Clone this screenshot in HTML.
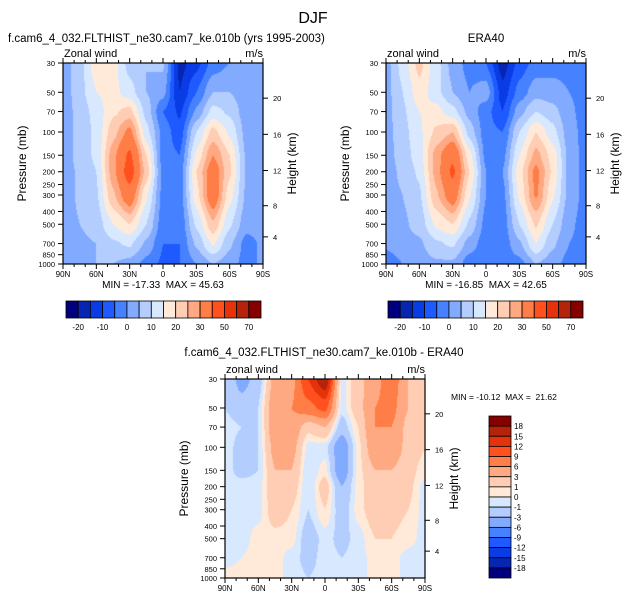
<!DOCTYPE html>
<html><head><meta charset="utf-8">
<style>
body{margin:0;background:#fff;width:626px;height:601px;overflow:hidden;position:relative;font-family:"Liberation Sans",sans-serif;}
svg{position:absolute;left:0;top:0}
svg text{white-space:pre}
canvas{position:absolute}
</style></head>
<body>
<canvas id="c1" style="left:63px;top:63px" width="200" height="201"></canvas>
<canvas id="c2" style="left:386px;top:63px" width="200" height="201"></canvas>
<canvas id="c3" style="left:225px;top:379px" width="200" height="199"></canvas>
<svg id="s" width="626" height="601"></svg>
<script>
const lats=[90,75,60,45,30,15,0,-15,-30,-45,-60,-75,-90];
const levs=[30,50,70,100,150,200,300,500,700,1000];
const modelU=[
[2,2,2,2,2,2,2,2,2,1],
[8,8,7,7,7,6,6,5,4,3],
[18,15,12,11,11,10,9,7,5,5],
[17,17,19,23,28,28,24,15,9,5],
[8,12,22,32,42,45,36,20,11,3],
[5,5,8,12,20,23,16,10,4,-2],
[6,2,-5,-2,-3,-2,-2,-3,-5,-6],
[-17,-15,-11,-8,-5,-3,-3,-4,-5,-5],
[-12,-5,1,10,16,20,18,11,6,0],
[-3,5,12,22,30,35,36,24,16,5],
[0,5,9,14,20,21,17,11,6,2],
[2,2,2,3,4,4,4,2,-2,-2],
[2,2,2,2,2,2,2,2,1,1]];
const eraU=[
[3,3,3,3,3,3,3,2,1,-3],
[12,10,9,8,7,6,5,4,3,0],
[22,18,15,14,13,11,9,7,4,2],
[12,12,17,21,27,27,24,16,9,4],
[3,5,12,25,38,42,35,20,11,4],
[-2,0,3,8,17,20,16,9,3,-3],
[-5,3,-3,-3,-2,0,0,-2,-3,-4],
[-18,-13,-10,-5,-2,0,-2,-3,-3,-3],
[-8,-3,3,10,15,18,16,10,4,-2],
[-3,3,10,20,27,32,31,21,15,5],
[-2,2,7,12,18,19,16,10,6,2],
[-2,0,1,2,3,3,3,1,0,-2],
[-2,-2,-2,-2,-2,-2,-2,-2,-2,-2]];
const diffU=[
[-1,-1,-0.5,-0.5,-0.5,-0.5,-0.5,-0.5,-0.5,0.5],
[-4,-2,-1,-1.5,-1.5,-0.5,-0.5,-0.5,0,0.5],
[-2,-1,-1,-1,-1,-0.5,-0.5,0.5,0.5,0.5],
[4,5,5,4,3,2.5,2,0.5,0.5,0.5],
[5,6,5,4,3,2,1,0.5,-0.5,-0.5],
[12,8,1.5,-0.5,-1,-1,-1,-2,-1.5,-1],
[18,10,3,-0.5,0.5,2,1,-0.5,-0.5,-0.5],
[-0.5,-0.5,-2,-5,-5,-3,-2,-1.5,-1,-0.5],
[2,2,1,0.5,0.5,0.5,0.5,-0.5,-0.5,-0.5],
[5,6,6,5,3,2,2,1,0.5,0.5],
[8,7,6,5,3,2,1.5,1,0.5,0.5],
[3,3,2,2,1.5,1.5,1,0.5,-0.5,-0.5],
[2,2,1.5,1,0.5,-0.5,-0.5,-0.5,-0.5,-1]];
const levelsA=[-20,-15,-10,-5,0,5,10,15,20,25,30,40,50,60,70];
const labelsA=["-20","-10","0","10","20","30","50","70"];
const levelsD=[-18,-15,-12,-9,-6,-3,-1,0,1,3,6,9,12,15,18];
const colors=["#00007e","#0625b0","#0a3ce6","#1e5aff","#4682ff","#82aaff","#b4cdff","#d7e8ff","#ffead9","#ffcdb4","#ffa982","#ff7d46","#ff501e","#e6320a","#b4230a","#870000"];
const pTicks=[30,50,70,100,150,200,250,300,400,500,700,850,1000];
const zTicks=[4,8,12,16,20];
const zOff={4:173,8:142,12:107,16:71,20:35};
const xLabels=["90N","60N","30N","0","30S","60S","90S"];

const L=Math.log10(1000/30);
function yOf(p,h){return h*Math.log10(p/30)/L;}
function xOf(lat,w){return w*(90-lat)/180;}
function fieldAt(data,lat,p){
  let fi=(90-lat)/15; let i=Math.min(Math.floor(fi),11); let ti=fi-i;
  let lp=Math.log10(p); let j=0;
  while(j<levs.length-2 && lp>Math.log10(levs[j+1])) j++;
  let a=Math.log10(levs[j]),b=Math.log10(levs[j+1]);
  let tj=Math.max(0,Math.min(1,(lp-a)/(b-a)));
  ti=ti*ti*(3-2*ti)*0.5+ti*0.5; tj=tj*tj*(3-2*tj)*0.5+tj*0.5;
  const v00=data[i][j],v01=data[i][j+1],v10=data[i+1][j],v11=data[i+1][j+1];
  return (v00*(1-ti)+v10*ti)*(1-tj)+(v01*(1-ti)+v11*ti)*tj;
}
function colorOf(v,levels){let k=0;while(k<levels.length&&v>=levels[k])k++;return colors[k];}
function drawField(id,data,levels){
  const c=document.getElementById(id),ctx=c.getContext('2d'),w=c.width,h=c.height;
  for(let x=0;x<w;x+=1){for(let y=0;y<h;y+=1){
    const lat=90-180*(x+0.5)/w; const p=30*Math.pow(10,L*(y+0.5)/h);
    ctx.fillStyle=colorOf(fieldAt(data,lat,p),levels);ctx.fillRect(x,y,1,1);}}
}
drawField('c1',modelU,levelsA);drawField('c2',eraU,levelsA);drawField('c3',diffU,levelsD);

const NS="http://www.w3.org/2000/svg",S=document.getElementById('s');
function el(t,a,txt){const e=document.createElementNS(NS,t);for(const k in a)e.setAttribute(k,a[k]);if(txt!==undefined)e.textContent=txt;S.appendChild(e);return e;}
function txt(x,y,s,size,anchor,name){const e=el('text',{x:x,y:y,'font-size':size,'text-anchor':anchor||'start',fill:'#000'},s);

return e;}

function axes(x0,y0,w,h,leftTitle,prefix){
  const r=el('rect',{x:x0,y:y0,width:w,height:h,fill:'none',stroke:'#000','stroke-width':1.2});
  
  
  for(let lat=90;lat>=-90;lat-=10){const x=x0+xOf(lat,w),maj=lat%30===0,len=maj?5:3;
    el('line',{x1:x,x2:x,y1:y0+h,y2:y0+h+len,stroke:'#000'});
    el('line',{x1:x,x2:x,y1:y0,y2:y0-len,stroke:'#000'});}
  xLabels.forEach((s,i)=>txt(x0+i*w/6,y0+h+13,s,8,'middle',prefix+'-x-tick-label'));
  pTicks.forEach(p=>{const y=y0+yOf(p,h);el('line',{x1:x0-5,x2:x0,y1:y,y2:y,stroke:'#000'});
    txt(x0-8,y+3,String(p),7.5,'end',prefix+'-y-tick-label');});
  zTicks.forEach(z=>{const y=y0+zOff[z]*h/200;el('line',{x1:x0+w,x2:x0+w+5,y1:y,y2:y,stroke:'#000'});
    txt(x0+w+10,y+3,String(z),7.5,'start',prefix+'-height-tick-label');});
  const t1=txt(0,0,'Pressure (mb)',12,'middle',prefix+'-y-axis-title');t1.setAttribute('transform',`translate(${x0-37},${y0+h/2}) rotate(-90)`);
  const t2=txt(0,0,'Height (km)',12,'middle',prefix+'-height-axis-title');t2.setAttribute('transform',`translate(${x0+w+33},${y0+h/2}) rotate(-90)`);
  txt(x0+1,y0-6,leftTitle,11,'start',prefix+'-variable-label');
  txt(x0+w,y0-6,'m/s',11,'end',prefix+'-units-label');
}
axes(63,63,200,201,'Zonal wind','model');
axes(386,63,200,201,'zonal wind','era40');
axes(225,379,200,199,'zonal wind','diff');

function hbar(x0,y0,w,h,prefix){
  const bw=w/16;
  colors.forEach((c,i)=>{const r=el('rect',{x:x0+i*bw,y:y0,width:bw,height:h,fill:c,stroke:'#000','stroke-width':0.8});
    
    });
  labelsA.forEach((s,i)=>txt(x0+(2*i+1)*bw,y0+h+12,s,8,'middle',prefix+'-colorbar-label'));
}
hbar(66,301,195,17,'model');hbar(388,301,195,17,'era40');
(function(){const x0=489,y0=416,w=22,h=162,bh=h/16;
  colors.slice().reverse().forEach((c,i)=>{const r=el('rect',{x:x0,y:y0+i*bh,width:w,height:bh,fill:c,stroke:'#000','stroke-width':0.8});
    
    });
  levelsD.slice().reverse().forEach((v,i)=>txt(x0+w+3,y0+(i+1)*bh+3,String(v),8,'start','diff-colorbar-label'));
})();

txt(313,23,'DJF',16,'middle','figure-title');
txt(8,42,'f.cam6_4_032.FLTHIST_ne30.cam7_ke.010b (yrs 1995-2003)',11.5,'start','model-panel-title');
txt(486,42,'ERA40',11.5,'middle','era40-panel-title');
txt(324,356,'f.cam6_4_032.FLTHIST_ne30.cam7_ke.010b - ERA40',11.5,'middle','diff-panel-title');
txt(163,288,'MIN = -17.33  MAX = 45.63',10,'middle','model-min-max');
txt(486,288,'MIN = -16.85  MAX = 42.65',10,'middle','era40-min-max');
txt(451,400,'MIN = -10.12  MAX =  21.62',8.5,'start','diff-min-max');
</script>
</body></html>
